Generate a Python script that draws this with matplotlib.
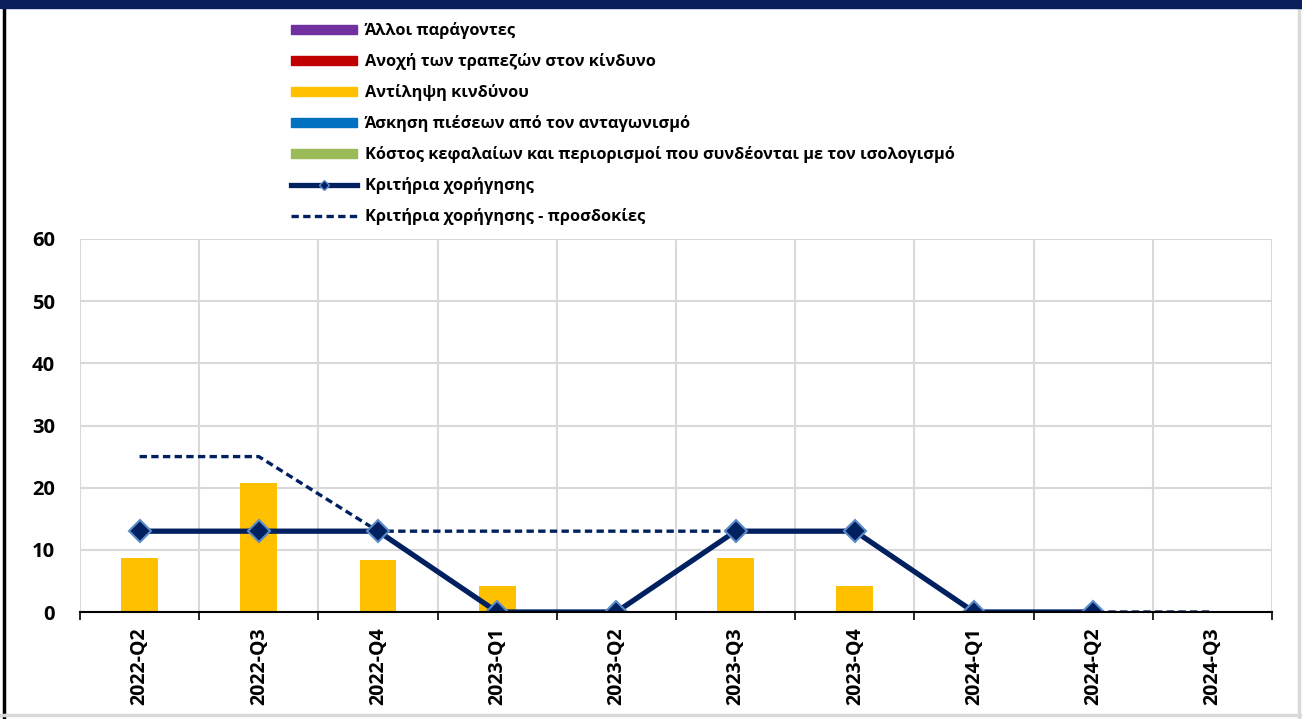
import numpy as np
import matplotlib
matplotlib.use("Agg")
import matplotlib.pyplot as plt
from matplotlib.patches import Rectangle
from matplotlib.lines import Line2D

plt.rcParams['font.family'] = ['Open Sans', 'DejaVu Sans']

quarters = ["2022-Q2", "2022-Q3", "2022-Q4", "2023-Q1", "2023-Q2",
            "2023-Q3", "2023-Q4", "2024-Q1", "2024-Q2", "2024-Q3"]
other_factors = [0, 0, 0, 0, 0, 0, 0, 0, 0, np.nan]
risk_tolerance = [0, 0, 0, 0, 0, 0, 0, 0, 0, np.nan]
risk_perception = [8.7, 20.8, 8.3, 4.2, 0, 8.7, 4.2, 0, 0, np.nan]
competition = [0, 0, 0, 0, 0, 0, 0, 0, 0, np.nan]
cost_of_funds = [0, 0, 0, 0, 0, 0, 0, 0, 0, np.nan]
credit_standards = [13, 13, 13, 0, 0, 13, 13, 0, 0, np.nan]
credit_standards_exp = [25, 25, 13, 13, 13, 13, 13, 0, 0, 0]

labels = ["Άλλοι παράγοντες",
          "Ανοχή των τραπεζών στον κίνδυνο",
          "Αντίληψη κινδύνου",
          "Άσκηση πιέσεων από τον ανταγωνισμό",
          "Κόστος κεφαλαίων και περιορισμοί που συνδέονται με τον ισολογισμό",
          "Κριτήρια χορήγησης",
          "Κριτήρια χορήγησης - προσδοκίες"]
bar_colors = ["#7030A0", "#C00000", "#FFC000", "#0070C0", "#9BBB59"]
navy = "#002060"

fig = plt.figure(figsize=(13.02, 7.19), dpi=100)
ax = fig.add_axes([80/1302, 1-612/719, (1272-80)/1302, (612-239)/719])

x = np.arange(len(quarters))
series = [cost_of_funds, competition, risk_perception, risk_tolerance, other_factors]
ser_colors = [bar_colors[4], bar_colors[3], bar_colors[2], bar_colors[1], bar_colors[0]]
bottom = np.zeros(len(quarters))
for vals, col in zip(series, ser_colors):
    v = np.nan_to_num(np.array(vals, dtype=float))
    ax.bar(x, v, width=0.31, bottom=bottom, color=col, zorder=2)
    bottom += v

ax.plot(x, credit_standards_exp, color=navy, lw=2.4, ls=(0, (2.2, 1.3)), zorder=3)
ax.plot(x, credit_standards, color=navy, lw=3.8, marker='D', ms=11,
        markerfacecolor=navy, markeredgecolor="#5B8BC9", markeredgewidth=1.5, zorder=4)

ax.set_xlim(-0.5, len(quarters)-0.5)
ax.set_ylim(0, 60)
ax.set_yticks(np.arange(0, 61, 10))
ax.set_xticks(x)
ax.set_xticklabels(quarters, rotation=90, fontsize=14, fontweight='bold')
ax.set_xticks(np.arange(-0.5, len(quarters), 1), minor=True)
ax.tick_params(axis='x', which='major', length=0, pad=11)
ax.tick_params(axis='x', which='minor', length=6, width=1.2, color='black', direction='out')
ax.tick_params(axis='y', length=0, pad=18, labelsize=14.5)
for t in ax.get_yticklabels():
    t.set_fontweight('bold')
ax.grid(True, axis='y', color='#D9D9D9', lw=1.5, zorder=0)
ax.grid(True, axis='x', which='minor', color='#D9D9D9', lw=1.5, zorder=0)
ax.grid(False, axis='x', which='major')
for s in ['left', 'right', 'top']:
    ax.spines[s].set_visible(False)
ax.spines['bottom'].set_color('black')
ax.spines['bottom'].set_linewidth(1.5)
ax.spines['bottom'].set_zorder(5)

# legend
leg_handles = [Rectangle((0, 0), 1, 1, color=c) for c in bar_colors]
leg_handles.append(Line2D([], [], color=navy, lw=3.8, marker='D', ms=5,
                          markerfacecolor=navy, markeredgecolor="#5B8BC9"))
leg_handles.append(Line2D([], [], color=navy, lw=2.4, ls=(0, (2.2, 1.3))))
leg = fig.legend(leg_handles, labels, loc='upper left', bbox_to_anchor=(291/1302, 1-22/719),
                 frameon=False, fontsize=11.8, handlelength=4.0, handleheight=0.5,
                 handletextpad=0.5, labelspacing=0.855, borderpad=0, borderaxespad=0)
for t in leg.get_texts():
    t.set_fontweight('bold')

# frame decorations
fig.patches.append(Rectangle((0, 1-8/719), 1, 8/719, transform=fig.transFigure,
                             color="#0A1F5C", zorder=10))
fig.add_artist(Line2D([4/1302, 4/1302], [0, 1], transform=fig.transFigure, color='black', lw=2.5))
fig.add_artist(Line2D([1299/1302, 1299/1302], [0, 1-8/719], transform=fig.transFigure, color='#D9D9D9', lw=2.5))
fig.add_artist(Line2D([0, 1], [4/719, 4/719], transform=fig.transFigure, color='#D9D9D9', lw=2.5))

fig.savefig("out.png", dpi=100)
